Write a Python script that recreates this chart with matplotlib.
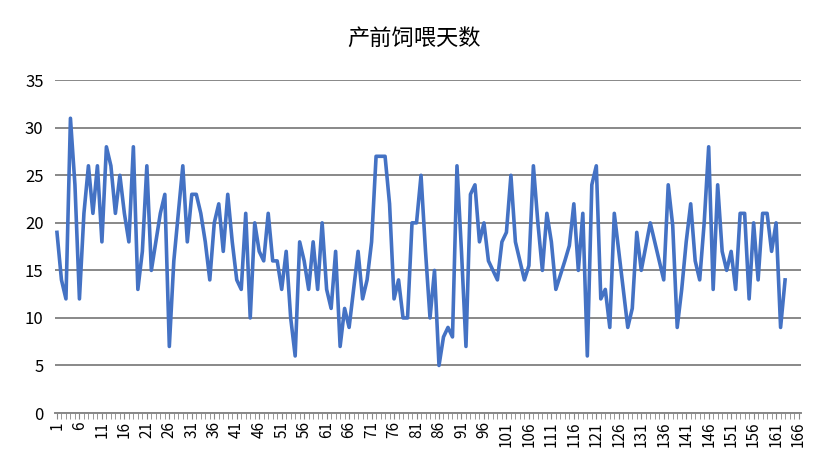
import matplotlib
matplotlib.use("Agg")
import matplotlib.pyplot as plt

plt.rcParams['font.family'] = ['Noto Sans CJK SC', 'DejaVu Sans']

values = [19,14,12,31,24,12,21,26,21,26,18,28,26,21,25,21,18,28,13,
          17,26,15,18,21,23,7,16,21,26,18,23,23,21,18,14,20,22,17,23,
          18,14,13,21,10,20,17,16,21,16,16,13,17,10,6,18,16,13,18,
          13,20,13,11,17,7,11,9,13,17,12,14,18,27,27,27,22,12,14,10,
          10,20,20,25,17,10,15,
          5,8,9,8,26,17,7,23,24,18,20,16,15,14,18,19,25,18,16,14,15.5,26,20,15,21,18,13,
          14.5,16,17.6,22,15,21,6,24,26,12,13,9,21,17,13,9,11,19,15,17.5,20,18,16,14,24,19.7,9,
          13,18,22,16,14,20,28,13,24,17,15,17,13,21,21,12,20,14,21,21,17,20,9,14]
x = list(range(1, len(values) + 1))
yticks = [0, 5, 10, 15, 20, 25, 30, 35]
xtick_labels = list(range(1, 167, 5))

fig = plt.figure(figsize=(8.29, 4.72), dpi=100)
ax = fig.add_axes([0.066, 0.125, 0.90, 0.705])
ax.plot(x, values, color='#4472C4', lw=2.6)
ax.set_xlim(0.5, 166.5)
ax.set_ylim(0, 35)
ax.set_yticks(yticks)
ax.set_xticks(xtick_labels)
ax.set_xticks(range(1, 167), minor=True)
ax.set_xticklabels([str(v) for v in xtick_labels], rotation=90, fontsize=11)
ax.tick_params(axis='y', labelsize=12, length=0, pad=8)
ax.tick_params(axis='x', which='both', length=4, color='#888888', direction='out', pad=2)
ax.grid(axis='y', color='#888888', lw=1.4)
for s in ['top', 'right', 'left']:
    ax.spines[s].set_visible(False)
ax.spines['bottom'].set_color('#888888')
ax.spines['bottom'].set_linewidth(1.4)
fig.text(0.5, 0.92, '产前饲喂天数', ha='center', va='center', fontsize=16)
fig.savefig('out.png', dpi=100)
